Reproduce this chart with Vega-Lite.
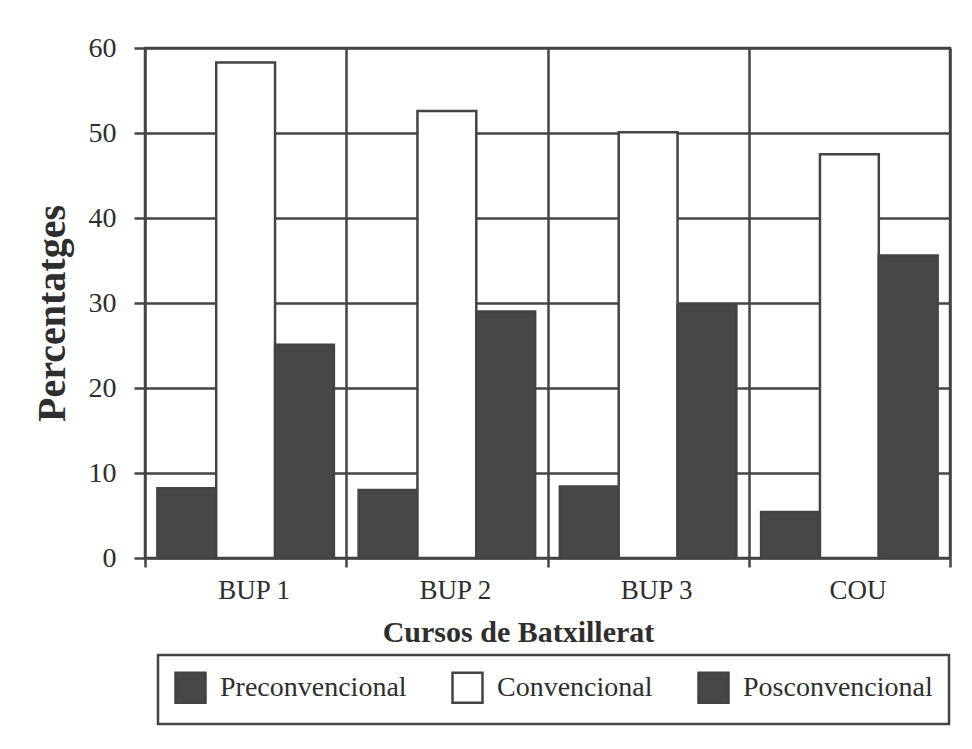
{
  "$schema": "https://vega.github.io/schema/vega-lite/v6.json",
  "width": 805,
  "height": 510,
  "autosize": {"type": "none"},
  "padding": {"left": 145, "top": 48, "right": 22, "bottom": 191},
  "background": "white",
  "data": {
    "values": [
      {"curs": "BUP 1", "nivell": "Preconvencional", "percentatge": 8.2},
      {"curs": "BUP 1", "nivell": "Convencional", "percentatge": 58.3},
      {"curs": "BUP 1", "nivell": "Posconvencional", "percentatge": 25.1},
      {"curs": "BUP 2", "nivell": "Preconvencional", "percentatge": 8.0},
      {"curs": "BUP 2", "nivell": "Convencional", "percentatge": 52.6},
      {"curs": "BUP 2", "nivell": "Posconvencional", "percentatge": 29.0},
      {"curs": "BUP 3", "nivell": "Preconvencional", "percentatge": 8.4},
      {"curs": "BUP 3", "nivell": "Convencional", "percentatge": 50.1},
      {"curs": "BUP 3", "nivell": "Posconvencional", "percentatge": 29.8},
      {"curs": "COU", "nivell": "Preconvencional", "percentatge": 5.4},
      {"curs": "COU", "nivell": "Convencional", "percentatge": 47.5},
      {"curs": "COU", "nivell": "Posconvencional", "percentatge": 35.6}
    ]
  },
  "mark": {"type": "bar", "stroke": "#444444", "strokeWidth": 2.5, "fillOpacity": 1},
  "encoding": {
    "x": {
      "field": "curs",
      "type": "nominal",
      "sort": ["BUP 1", "BUP 2", "BUP 3", "COU"],
      "scale": {"paddingInner": 0, "paddingOuter": 0},
      "axis": {
        "title": "Cursos de Batxillerat",
        "titleFont": "Liberation Serif",
        "titleFontSize": 30,
        "titleFontWeight": "bold",
        "titleColor": "#2e2e2e",
        "titleX": 373,
        "titleY": 74,
        "titleAlign": "center",
        "titleBaseline": "middle",
        "labelFont": "Liberation Serif",
        "labelFontSize": 27,
        "labelColor": "#2e2e2e",
        "labelAngle": 0,
        "labelOffset": 8,
        "labelPadding": 10,
        "tickBand": "extent",
        "tickSize": 9,
        "tickColor": "#444444",
        "tickWidth": 2.5,
        "grid": true,
        "gridColor": "#444444",
        "gridWidth": 2.5,
        "gridOpacity": 1,
        "domain": false
      }
    },
    "xOffset": {
      "field": "nivell",
      "type": "nominal",
      "sort": ["Preconvencional", "Convencional", "Posconvencional"],
      "scale": {"paddingInner": 0, "paddingOuter": 0.21}
    },
    "y": {
      "field": "percentatge",
      "type": "quantitative",
      "scale": {"domain": [0, 60], "nice": false},
      "axis": {
        "title": "Percentatges",
        "titleFont": "Liberation Serif",
        "titleFontSize": 40,
        "titleFontWeight": "bold",
        "titleColor": "#2e2e2e",
        "titleX": -93,
        "titleY": 265,
        "titleAlign": "center",
        "titleBaseline": "middle",
        "titleAngle": 270,
        "values": [0, 10, 20, 30, 40, 50, 60],
        "labelFont": "Liberation Serif",
        "labelFontSize": 28,
        "labelColor": "#2e2e2e",
        "labelPadding": 18,
        "tickSize": 11,
        "tickColor": "#444444",
        "tickWidth": 2.5,
        "grid": true,
        "gridColor": "#444444",
        "gridWidth": 2.5,
        "gridOpacity": 1,
        "domain": false
      }
    },
    "fill": {
      "field": "nivell",
      "type": "nominal",
      "sort": ["Preconvencional", "Convencional", "Posconvencional"],
      "scale": {
        "domain": ["Preconvencional", "Convencional", "Posconvencional"],
        "range": ["#474747", "#ffffff", "#474747"]
      },
      "legend": {
        "title": null,
        "orient": "none",
        "legendX": 13,
        "legendY": 607,
        "direction": "horizontal",
        "symbolType": "square",
        "symbolSize": 900,
        "symbolStrokeColor": "#444444",
        "symbolStrokeWidth": 2.5,
        "labelFont": "Liberation Serif",
        "labelFontSize": 28,
        "labelColor": "#2e2e2e",
        "labelOffset": 13,
        "columnPadding": 40,
        "padding": 16,
        "strokeColor": "#444444",
        "labelLimit": 400,
        "encode": {"legend": {"update": {"strokeWidth": {"value": 2.5}}}}
      }
    }
  },
  "config": {
    "view": {"stroke": "#444444", "strokeWidth": 2.5},
    "font": "Liberation Serif"
  }
}
